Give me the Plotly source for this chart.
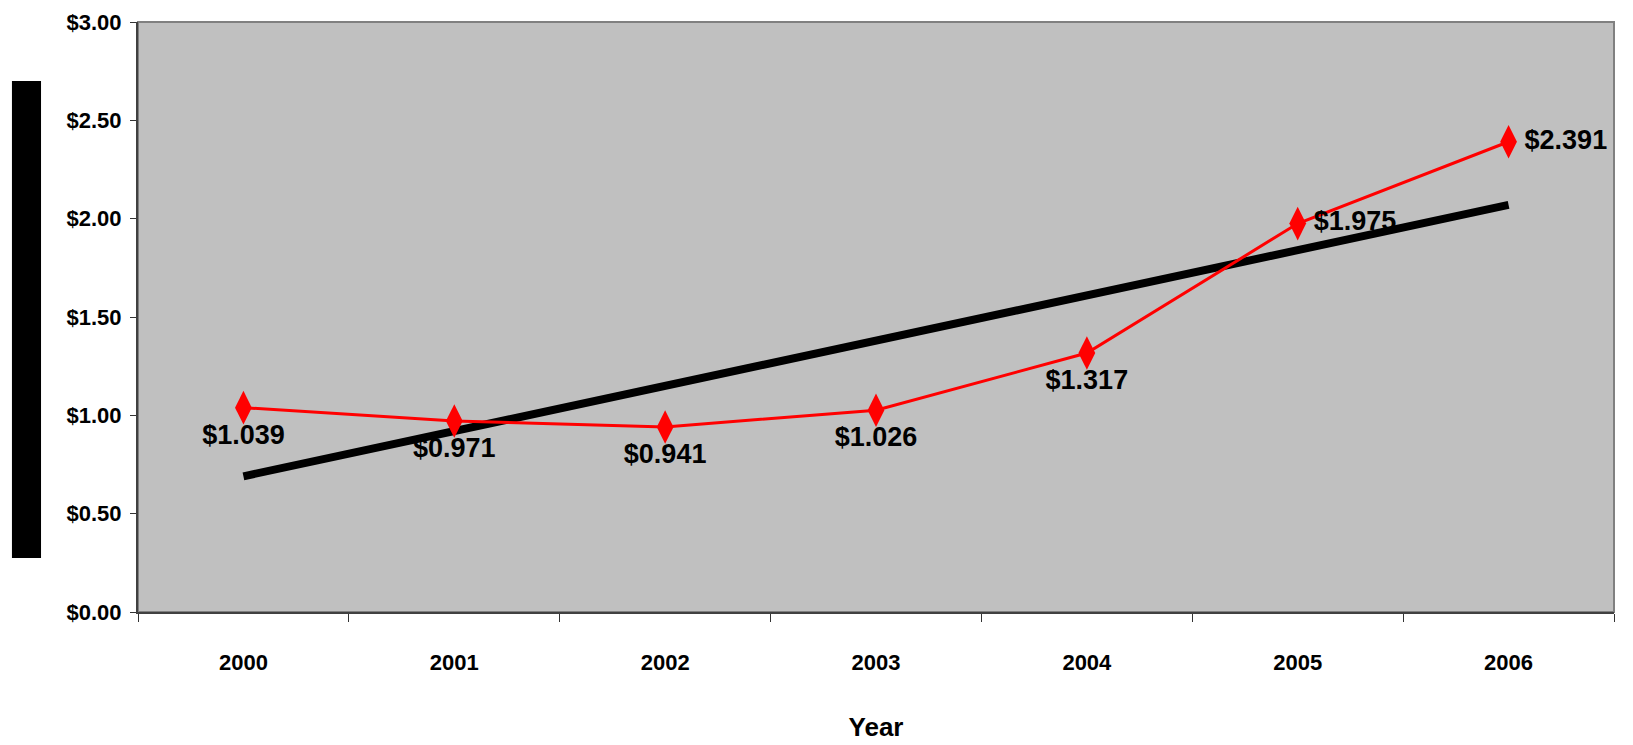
import plotly.graph_objects as go

years = ["2000", "2001", "2002", "2003", "2004", "2005", "2006"]
prices = [1.039, 0.971, 0.941, 1.026, 1.317, 1.975, 2.391]
price_labels = ["$1.039", "$0.971", "$0.941", "$1.026", "$1.317", "$1.975", "$2.391"]
label_pos = ["bottom center"] * 5 + ["middle right"] * 2
trend_years = ["2000", "2006"]
trend_values = [0.69, 2.07]
y_ticks = [0, 0.5, 1.0, 1.5, 2.0, 2.5, 3.0]
y_tick_labels = ["$0.00", "$0.50", "$1.00", "$1.50", "$2.00", "$2.50", "$3.00"]

FONT = "Liberation Sans, Arial, sans-serif"

fig = go.Figure()
fig.add_trace(go.Scatter(
    x=trend_years, y=trend_values, mode="lines",
    line=dict(color="black", width=8), hoverinfo="skip", showlegend=False))
fig.add_trace(go.Scatter(
    x=years, y=prices, mode="lines+markers+text",
    line=dict(color="#FF0000", width=3),
    marker=dict(symbol="diamond-tall", size=24, color="#FF0000"),
    text=price_labels, textposition=label_pos,
    textfont=dict(family=FONT, size=27, color="black", weight="bold"),
    cliponaxis=False, showlegend=False))

fig.update_layout(
    width=1633, height=745,
    margin=dict(l=138, r=19, t=22, b=133),
    paper_bgcolor="white", plot_bgcolor="#C0C0C0",
    font=dict(family=FONT, color="black"),
    xaxis=dict(type="category", categoryorder="array", categoryarray=years,
               range=[-0.5, len(years) - 0.5], automargin=False,
               tickson="boundaries", ticks="outside", ticklen=8,
               tickcolor="#333", showline=True, linecolor="#404040", linewidth=2,
               showgrid=False, tickfont=dict(size=22, weight="bold"), ticklabelstandoff=30,
               title=dict(text="Year", font=dict(size=26, weight="bold"), standoff=43)),
    yaxis=dict(range=[0, 3], tickvals=y_ticks, ticktext=y_tick_labels, ticks="outside",
               ticklen=6, tickcolor="#333", showline=True, linecolor="#404040", linewidth=2,
               showgrid=False, zeroline=False, tickfont=dict(size=22, weight="bold"),
               ticklabelstandoff=4, automargin=False),
    shapes=[
        dict(type="rect", xref="paper", yref="paper", x0=0, x1=1, y0=0, y1=1,
             line=dict(color="#808080", width=2), layer="below"),
        dict(type="rect", xref="paper", yref="paper", x0=-0.0854, x1=-0.0657,
             y0=0.0915, y1=0.9, fillcolor="black", line=dict(width=0)),
    ],
)

fig.write_html("out.html")
